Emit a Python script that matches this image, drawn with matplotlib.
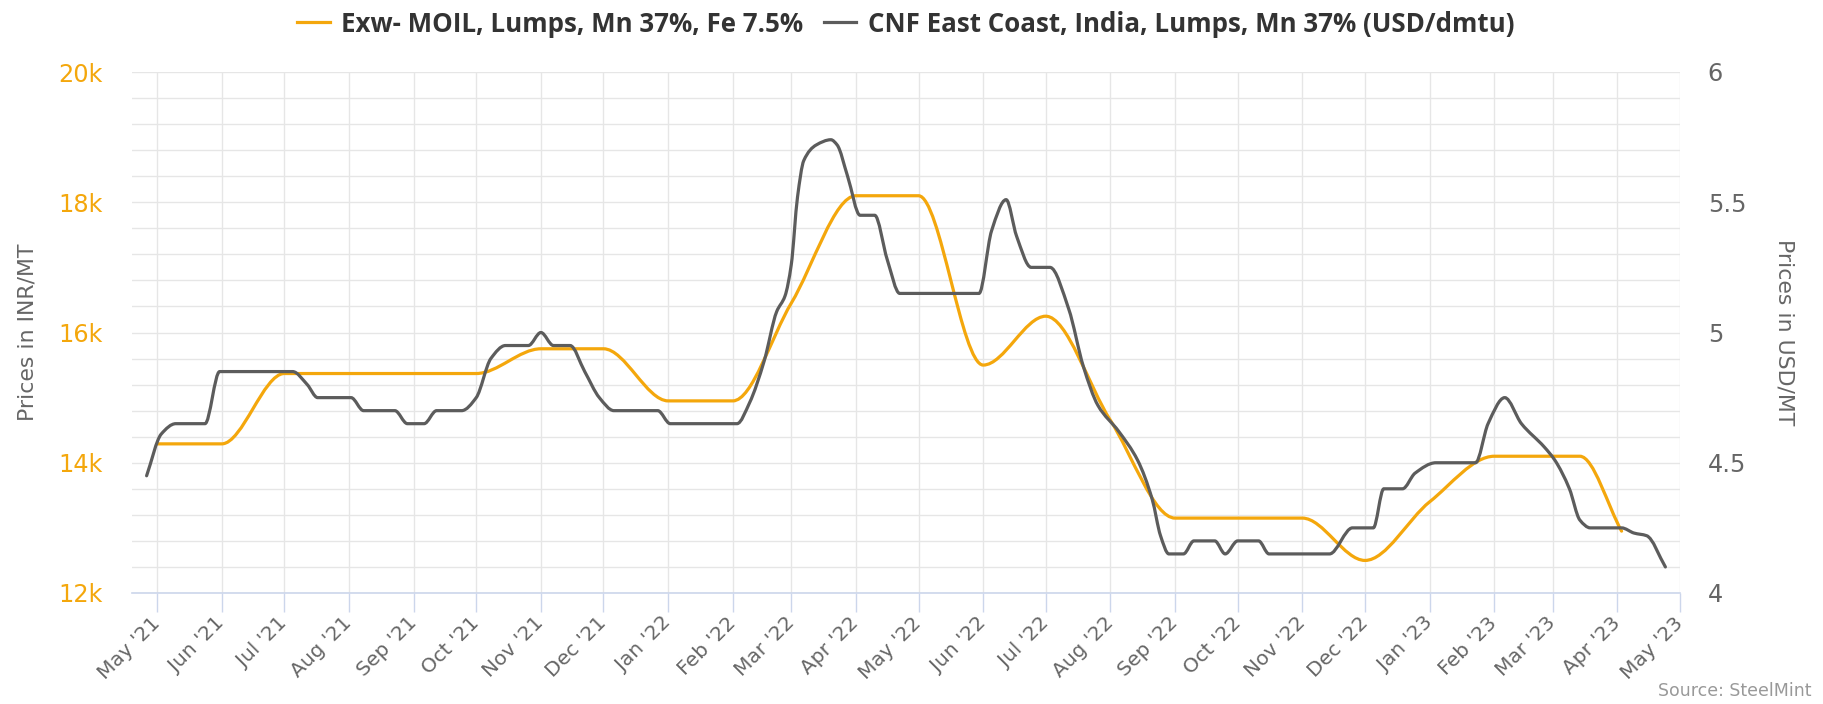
import numpy as np
import pandas as pd
import matplotlib
matplotlib.use('Agg')
import matplotlib.pyplot as plt
import matplotlib.dates as mdates
from matplotlib.path import Path
from matplotlib.patches import PathPatch
from matplotlib.lines import Line2D

# Exw- MOIL lumps (INR/MT), left axis
moil_dates = ['2021-05-01', '2021-06-01', '2021-07-01', '2021-08-01', '2021-09-01',
              '2021-10-01', '2021-11-01', '2021-12-01', '2022-01-01', '2022-02-01',
              '2022-03-01', '2022-04-01', '2022-05-01', '2022-06-01', '2022-07-01',
              '2022-08-01', '2022-09-01', '2022-10-01', '2022-11-01', '2022-12-01',
              '2023-01-01', '2023-02-01', '2023-03-01', '2023-03-14', '2023-04-03']
moil_inr = [14290, 14290, 15370, 15370, 15370,
            15370, 15750, 15750, 14950, 14950,
            16450, 18100, 18100, 15500, 16250,
            14650, 13150, 13150, 13150, 12500,
            13400, 14100, 14100, 14100, 12950]

# CNF East Coast India lumps (USD/dmtu), right axis
cnf_dates = ['2021-04-26', '2021-05-03', '2021-05-10', '2021-05-24', '2021-05-31',
             '2021-07-05', '2021-07-12', '2021-07-17', '2021-08-02', '2021-08-08',
             '2021-08-23', '2021-08-29', '2021-09-06', '2021-09-12', '2021-09-24',
             '2021-10-01', '2021-10-08', '2021-10-15', '2021-10-26', '2021-11-01',
             '2021-11-07', '2021-11-15', '2021-11-22', '2021-11-29', '2021-12-06',
             '2021-12-27', '2022-01-02', '2022-02-03', '2022-02-09', '2022-02-16',
             '2022-02-22', '2022-02-26', '2022-03-01', '2022-03-04', '2022-03-07',
             '2022-03-13', '2022-03-20', '2022-03-23', '2022-03-28', '2022-04-03',
             '2022-04-10', '2022-04-16', '2022-04-22', '2022-05-30', '2022-06-05',
             '2022-06-12', '2022-06-17', '2022-06-24', '2022-07-03', '2022-07-12',
             '2022-07-19', '2022-07-26', '2022-08-05', '2022-08-14', '2022-08-21',
             '2022-08-25', '2022-08-29', '2022-09-05', '2022-09-10', '2022-09-20',
             '2022-09-25', '2022-10-01', '2022-10-11', '2022-10-16', '2022-11-14',
             '2022-11-25', '2022-12-05', '2022-12-10', '2022-12-19', '2022-12-25',
             '2023-01-04', '2023-01-23', '2023-01-29', '2023-02-06', '2023-02-14',
             '2023-02-25', '2023-03-02', '2023-03-09', '2023-03-14', '2023-03-19',
             '2023-04-03', '2023-04-09', '2023-04-15', '2023-04-24']
cnf_usd = [4.45, 4.61, 4.65, 4.65, 4.85,
           4.85, 4.80, 4.75, 4.75, 4.70,
           4.70, 4.65, 4.65, 4.70, 4.70,
           4.75, 4.90, 4.95, 4.95, 5.00,
           4.95, 4.95, 4.85, 4.75, 4.70,
           4.70, 4.65, 4.65, 4.73, 4.89,
           5.08, 5.14, 5.26, 5.52, 5.66,
           5.72, 5.74, 5.72, 5.60, 5.45,
           5.45, 5.28, 5.15, 5.15, 5.39,
           5.51, 5.37, 5.25, 5.25, 5.09,
           4.87, 4.72, 4.62, 4.51, 4.36,
           4.22, 4.15, 4.15, 4.20, 4.20,
           4.15, 4.20, 4.20, 4.15, 4.15,
           4.25, 4.25, 4.40, 4.40, 4.46,
           4.50, 4.50, 4.65, 4.75, 4.65,
           4.56, 4.51, 4.40, 4.28, 4.25,
           4.25, 4.23, 4.22, 4.10]

inr_ticks = [12000, 14000, 16000, 18000, 20000]
inr_labels = ['12k', '14k', '16k', '18k', '20k']
usd_ticks = [4, 4.5, 5, 5.5, 6]
usd_labels = ['4', '4.5', '5', '5.5', '6']
month_ticks = pd.date_range('2021-05-01', '2023-05-01', freq='MS')
month_labels = [d.strftime("%b '%y") for d in month_ticks]

orange = '#f4a70c'
grey_line = '#5c5c5c'
grid_c = '#e6e6e6'
axis_c = '#ccd6eb'

W, H = 1824, 704
L, R, T, B = 132, 1680, 72, 593


def smooth_path(x, y):
    # monotone cubic (pchip) through the points, drawn as bezier segments
    x = np.asarray(x, float)
    y = np.asarray(y, float)
    h = np.diff(x)
    dlt = np.diff(y) / h
    m = np.zeros_like(y)
    m[0], m[-1] = dlt[0], dlt[-1]
    for k in range(1, len(x) - 1):
        if dlt[k-1] * dlt[k] > 0:
            w1 = 2*h[k] + h[k-1]
            w2 = h[k] + 2*h[k-1]
            m[k] = (w1 + w2) / (w1/dlt[k-1] + w2/dlt[k])
    verts = [(x[0], y[0])]
    codes = [Path.MOVETO]
    for k in range(len(x) - 1):
        verts += [(x[k] + h[k]/3, y[k] + m[k]*h[k]/3),
                  (x[k+1] - h[k]/3, y[k+1] - m[k+1]*h[k]/3),
                  (x[k+1], y[k+1])]
        codes += [Path.CURVE4] * 3
    return Path(verts, codes)


fig = plt.figure(figsize=(W/100, H/100), dpi=100)
ax = fig.add_axes([L/W, 1 - B/H, (R - L)/W, (B - T)/H])
ax2 = ax.twinx()

x0 = mdates.date2num(pd.Timestamp('2021-04-19'))
x1 = mdates.date2num(pd.Timestamp('2023-05-01'))
ax.set_xlim(x0, x1)
ax.set_ylim(12000, 20000)
ax2.set_ylim(4, 6)

mx = mdates.date2num(pd.to_datetime(moil_dates))
cx = mdates.date2num(pd.to_datetime(cnf_dates))

ax.add_patch(PathPatch(smooth_path(mx, moil_inr), fill=False, edgecolor=orange,
                       lw=2.3, capstyle='round', joinstyle='round', zorder=3))
ax2.add_patch(PathPatch(smooth_path(cx, cnf_usd), fill=False, edgecolor=grey_line,
                        lw=2.3, capstyle='round', joinstyle='round', zorder=3))

# grid
ax.set_yticks(np.arange(12000, 20001, 400), minor=True)
ax.set_yticks(inr_ticks)
ax.set_yticklabels(inr_labels)
ax.grid(True, which='both', axis='y', color=grid_c, lw=1)
ax.set_xticks(mdates.date2num(month_ticks))
ax.set_xticklabels(month_labels, rotation=45, ha='right', va='center', rotation_mode='anchor')
ax.grid(True, axis='x', color=grid_c, lw=1)
ax.set_axisbelow(True)

ax.tick_params(axis='y', which='both', length=0, labelsize=17.3, labelcolor=orange, pad=21)
ax.tick_params(axis='x', length=13.5, color=axis_c, width=1, labelsize=14.5,
               labelcolor='#666666', pad=6)
ax2.set_yticks(usd_ticks)
ax2.set_yticklabels(usd_labels)
ax2.tick_params(axis='y', length=0, labelsize=17.3, labelcolor='#666666', pad=20)

for s in ['top', 'left', 'right']:
    ax.spines[s].set_visible(False)
for s in ['top', 'left', 'right', 'bottom']:
    ax2.spines[s].set_visible(False)
ax.spines['bottom'].set_color(axis_c)
ax.spines['bottom'].set_linewidth(1.2)

ax.set_ylabel('Prices in INR/MT', fontsize=15.8, color='#666666', va='center')
ax.yaxis.set_label_coords(-(L - 27)/(R - L), 0.5)
ax2.set_ylabel('Prices in USD/MT', fontsize=15.8, color='#666666', rotation=270, va='center')
ax2.yaxis.set_label_coords(1 + (1784 - R)/(R - L), 0.5)

handles = [Line2D([], [], color=orange, lw=2.3),
           Line2D([], [], color=grey_line, lw=2.3)]
labels = ['Exw- MOIL, Lumps, Mn 37%, Fe 7.5%',
          'CNF East Coast, India, Lumps, Mn 37% (USD/dmtu)']
fig.legend(handles, labels, loc='center', bbox_to_anchor=(906/W, 1 - 24/H), ncol=2,
           frameon=False, handlelength=1.25, handletextpad=0.45, columnspacing=0.8,
           prop={'family': 'Open Sans', 'weight': 'bold', 'size': 18.6},
           labelcolor='#333333')

fig.text(1812/W, 1 - 691/H, 'Source: SteelMint', ha='right', va='center',
         fontsize=12.5, color='#999999')

fig.savefig('out.png', dpi=100)
